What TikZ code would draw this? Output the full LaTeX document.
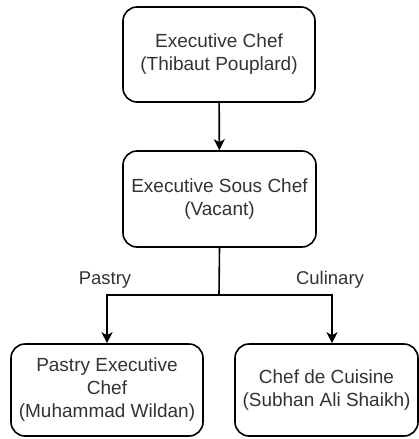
\documentclass[tikz,border=0pt]{standalone}
\usepackage{fontspec}
\setmainfont{Liberation Sans}
\usetikzlibrary{arrows.meta}
\definecolor{txt}{HTML}{333333}
\tikzset{
  role/.style={draw=black, line width=1.6pt, rounded corners=14pt, fill=white,
    inner sep=0pt, align=center, text=txt, font=\fontsize{19}{23}\selectfont},
  link/.style={draw=black, line width=1.6pt,
    -{Stealth[length=11pt, width=11pt, inset=3pt]}},
  branch/.style={text=txt, font=\fontsize{18.5}{22}\selectfont},
}
\begin{document}
\begin{tikzpicture}[x=1pt, y=-1pt]
  \useasboundingbox (0,0) rectangle (419,439);

  % staff positions
  \node[role, minimum width=192pt, minimum height=95pt] (exec) at (219,54.5)
    {Executive Chef\\(Thibaut Pouplard)};
  \node[role, minimum width=193pt, minimum height=96pt] (sous) at (219.5,199)
    {Executive Sous Chef\\(Vacant)};
  \node[role, minimum width=192pt, minimum height=92pt] (pastry) at (107,390)
    {Pastry Executive\\Chef\\(Muhammad Wildan)};
  \node[role, minimum width=183pt, minimum height=92pt] (cuisine) at (326.5,390)
    {Chef de Cuisine\\(Subhan Ali Shaikh)};

  % reporting lines
  \coordinate (split) at (219,295);
  \draw[link] (exec) -- (sous);
  \draw[line width=1.6pt] (sous.south) -- (split);
  \draw[link] (split) -| (pastry.north -| 107,0);
  \draw[link] (split) -| (cuisine.north -| 332,0);

  % branch labels
  \node[branch] (lpastry) at (105,280) {Pastry};
  \node[branch] (lculinary) at (330,280) {Culinary};
\end{tikzpicture}
\end{document}
